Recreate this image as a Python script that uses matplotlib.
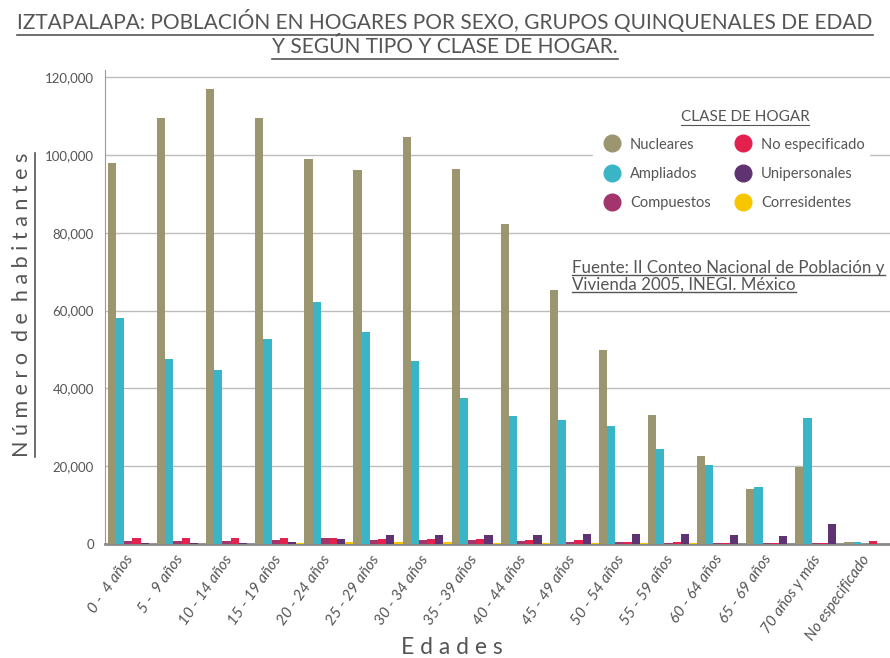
import matplotlib
matplotlib.use("Agg")
import matplotlib.pyplot as plt
import numpy as np
from matplotlib.lines import Line2D

categories = ["0 -  4 años", "5 -  9 años", "10 - 14 años", "15 - 19 años", "20 - 24 años",
              "25 - 29 años", "30 - 34 años", "35 - 39 años", "40 - 44 años", "45 - 49 años",
              "50 - 54 años", "55 - 59 años", "60 - 64 años", "65 - 69 años", "70 años y más",
              "No especificado"]
nucleares = [98000, 109500, 117000, 109500, 99000, 96200, 104500, 96300, 82200, 65200,
             49800, 33200, 22500, 14200, 19900, 600]
ampliados = [58000, 47500, 44600, 52600, 62300, 54600, 47100, 37400, 32900, 31800,
             30200, 24400, 20300, 14700, 32300, 500]
compuestos = [800, 800, 800, 1100, 1600, 1100, 1100, 900, 700, 600, 400, 300, 300, 200, 300, 100]
no_especificado = [1600, 1500, 1500, 1500, 1500, 1200, 1300, 1300, 1100, 1000, 600, 400, 300, 200, 300, 850]
unipersonales = [200, 200, 200, 400, 1300, 2200, 2300, 2400, 2400, 2500, 2600, 2500, 2400, 2100, 5200, 50]
corresidentes = [100, 100, 100, 200, 500, 400, 400, 300, 200, 200, 200, 200, 100, 100, 100, 20]

series = [("Nucleares", nucleares, "#9b9570"),
          ("Ampliados", ampliados, "#3ab5c7"),
          ("Compuestos", compuestos, "#a3356c"),
          ("No especificado", no_especificado, "#e2214f"),
          ("Unipersonales", unipersonales, "#5f3372"),
          ("Corresidentes", corresidentes, "#f7c600")]

text_col = "#555555"
plt.rcParams['font.family'] = ['Lato', 'DejaVu Sans']

fig = plt.figure(figsize=(8.9, 6.58), dpi=100)
ax = fig.add_axes([105/890, 114/658, 785/890, 474/658])

x = np.arange(len(categories))
w = 1/6
for k, (name, vals, col) in enumerate(series):
    ax.bar(x - 0.5 + w*k + w/2, vals, width=w, color=col, label=name, zorder=3)

ax.set_xlim(-0.56, 15.43)
ax.set_ylim(0, 121800)
yt = np.arange(0, 120001, 20000)
ax.set_yticks(yt)
ax.set_yticklabels([f"{v:,}" for v in yt], fontsize=9.5, color=text_col)
ax.yaxis.grid(True, color="#bdbdbd", lw=1, zorder=0)
ax.tick_params(axis='y', length=0, pad=8)
ax.set_xticks(x - 0.15)
ax.set_xticklabels(categories, rotation=55, ha='right', rotation_mode='anchor',
                   fontsize=11, style='italic', color=text_col)
ax.tick_params(axis='x', length=0, pad=6)
for s in ['top', 'right']:
    ax.spines[s].set_visible(False)
ax.spines['left'].set_color("#9a9a9a")
ax.spines['bottom'].set_color("#8a8a8a")
ax.spines['bottom'].set_linewidth(2)

handles = [Line2D([], [], marker='o', ls='', markersize=12, color=c) for _, _, c in series]
labels = [n for n, _, _ in series]
leg = ax.legend(handles, labels, ncol=2, loc='upper left', bbox_to_anchor=(0.612, 0.882),
                frameon=True, framealpha=1, edgecolor='white', facecolor='white',
                fontsize=10.5, labelcolor=text_col, columnspacing=1.2,
                handletextpad=0.25, labelspacing=1.05, borderpad=0.3)
leg.set_zorder(5)

t1 = fig.text(0.5, 0.967, "IZTAPALAPA: POBLACIÓN EN HOGARES POR SEXO, GRUPOS QUINQUENALES DE EDAD",
              ha='center', va='center', fontsize=15, color=text_col)
t2 = fig.text(0.5, 0.928, "Y SEGÚN TIPO Y CLASE DE HOGAR.", ha='center', va='center',
              fontsize=15, color=text_col)
t3 = fig.text(745/890, 1 - 117/658, "CLASE DE HOGAR", ha='center', va='center',
              fontsize=11, color=text_col)
t4a = fig.text(572/890, 1 - 268/658, "Fuente: II Conteo Nacional de Población y",
               ha='left', va='center', fontsize=12.2, color=text_col)
t4b = fig.text(572/890, 1 - 285/658, "Vivienda 2005, INEGI. México",
               ha='left', va='center', fontsize=12.2, color=text_col)
t5 = fig.text(452/890, 1 - 647/658, "E d a d e s", ha='center', va='center',
              fontsize=16.5, color=text_col)
t6 = fig.text(22/890, 1 - 305/658, "N ú m e r o  d e  h a b i t a n t e s", ha='center', va='center',
              rotation=90, fontsize=15.5, color=text_col)

fig.canvas.draw()
r = fig.canvas.get_renderer()
W, H = fig.get_size_inches() * fig.dpi

def underline(t, gap=2, lw=1.2):
    bb = t.get_window_extent(r)
    y = (bb.y0 - gap) / H
    fig.add_artist(Line2D([bb.x0 / W, bb.x1 / W], [y, y], color=text_col, lw=lw))

underline(t1)
underline(t2)
underline(t3, gap=1, lw=0.8)
underline(t4a, gap=-1, lw=1)
underline(t4b, gap=-1, lw=1)
underline(t5, gap=3)
bb = t6.get_window_extent(r)
xl = (bb.x1 + 3) / W
fig.add_artist(Line2D([xl, xl], [bb.y0 / H, bb.y1 / H], color=text_col, lw=1.2))

fig.savefig("out.png", dpi=100)
